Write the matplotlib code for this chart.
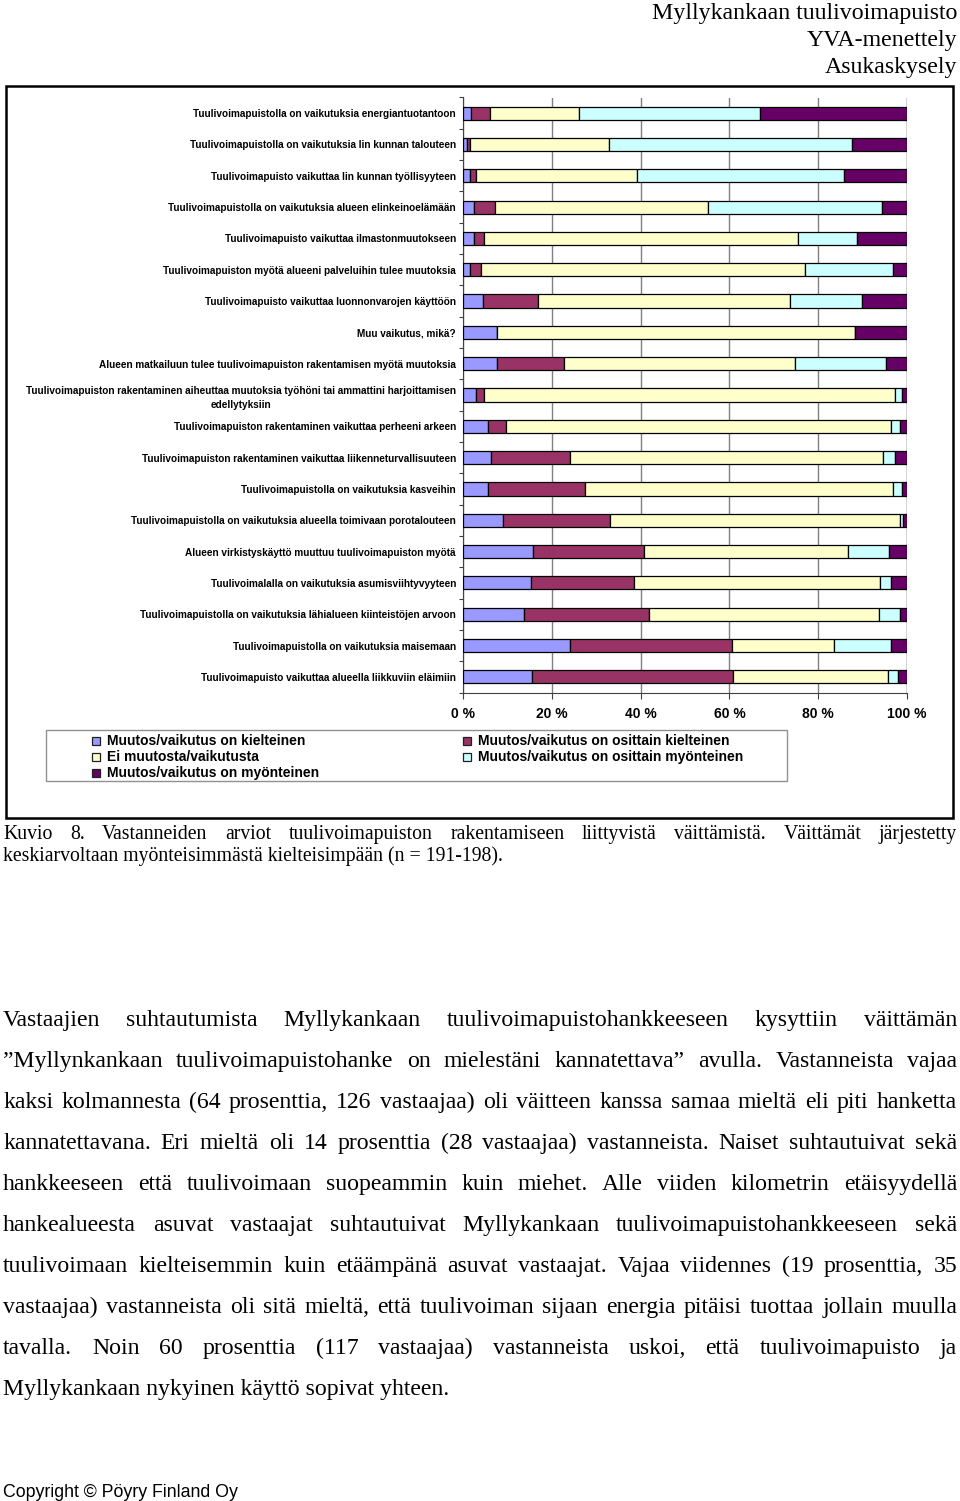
import numpy as np
import matplotlib
matplotlib.use('Agg')
import matplotlib.pyplot as plt
from matplotlib.patches import Rectangle

W, H = 960, 1501
SERIF = 'Liberation Serif'
SANS = 'Liberation Sans'

STATEMENTS = [
    'Tuulivoimapuistolla on vaikutuksia energiantuotantoon',
    'Tuulivoimapuistolla on vaikutuksia Iin kunnan talouteen',
    'Tuulivoimapuisto vaikuttaa Iin kunnan työllisyyteen',
    'Tuulivoimapuistolla on vaikutuksia alueen elinkeinoelämään',
    'Tuulivoimapuisto vaikuttaa ilmastonmuutokseen',
    'Tuulivoimapuiston myötä alueeni palveluihin tulee muutoksia',
    'Tuulivoimapuisto vaikuttaa luonnonvarojen käyttöön',
    'Muu vaikutus, mikä?',
    'Alueen matkailuun tulee tuulivoimapuiston rakentamisen myötä muutoksia',
    'Tuulivoimapuiston rakentaminen aiheuttaa muutoksia työhöni tai ammattini harjoittamisen\nedellytyksiin',
    'Tuulivoimapuiston rakentaminen vaikuttaa perheeni arkeen',
    'Tuulivoimapuiston rakentaminen vaikuttaa liikenneturvallisuuteen',
    'Tuulivoimapuistolla on vaikutuksia kasveihin',
    'Tuulivoimapuistolla on vaikutuksia alueella toimivaan porotalouteen',
    'Alueen virkistyskäyttö muuttuu tuulivoimapuiston myötä',
    'Tuulivoimalalla on vaikutuksia asumisviihtyvyyteen',
    'Tuulivoimapuistolla on vaikutuksia lähialueen kiinteistöjen arvoon',
    'Tuulivoimapuistolla on vaikutuksia maisemaan',
    'Tuulivoimapuisto vaikuttaa alueella liikkuviin eläimiin',
]

SERIES = [
    'Muutos/vaikutus on kielteinen',
    'Muutos/vaikutus on osittain kielteinen',
    'Ei muutosta/vaikutusta',
    'Muutos/vaikutus on osittain myönteinen',
    'Muutos/vaikutus on myönteinen',
]
COLORS = ['#9999FF', '#993366', '#FFFFCC', '#CCFFFF', '#660066']

# osuudet (%) per väittämä
kielteinen          = [1.8, 1.0, 1.5, 2.5, 2.4, 1.6, 4.5, 7.6, 7.6, 3.0, 5.6, 6.2, 5.6, 8.9, 15.8, 15.3, 13.8, 24.0, 15.5]
osittain_kielteinen = [4.2, 0.5, 1.4, 4.8, 2.3, 2.5, 12.3, 0.0, 15.1, 1.7, 4.0, 17.9, 21.8, 24.2, 24.9, 23.3, 28.1, 36.5, 45.4]
ei_muutosta         = [20.2, 31.4, 36.4, 47.9, 70.8, 73.0, 56.8, 80.8, 52.1, 92.7, 86.9, 70.6, 69.4, 65.3, 46.1, 55.3, 51.8, 23.1, 34.9]
osittain_myonteinen = [40.8, 54.6, 46.5, 39.2, 13.3, 19.7, 16.3, 0.0, 20.5, 1.5, 1.9, 2.7, 2.1, 0.7, 9.1, 2.6, 4.7, 12.8, 2.1]
myonteinen          = [33.0, 12.5, 14.2, 5.6, 11.2, 3.2, 10.1, 11.6, 4.7, 1.1, 1.6, 2.6, 1.1, 0.9, 4.1, 3.5, 1.6, 3.6, 2.1]

X_TICKS = [0, 20, 40, 60, 80, 100]
X_TICKLABELS = ['0 %', '20 %', '40 %', '60 %', '80 %', '100 %']

HEADER = ['Myllykankaan tuulivoimapuisto', 'YVA-menettely', 'Asukaskysely']
CAPTION = [
    'Kuvio 8. Vastanneiden arviot tuulivoimapuiston rakentamiseen liittyvistä väittämistä. Väittämät järjestetty',
    'keskiarvoltaan myönteisimmästä kielteisimpään (n = 191-198).',
]
BODY = [
    'Vastaajien suhtautumista Myllykankaan tuulivoimapuistohankkeeseen kysyttiin väittämän',
    '\u201dMyllynkankaan tuulivoimapuistohanke on mielestäni kannatettava\u201d avulla. Vastanneista vajaa',
    'kaksi kolmannesta (64 prosenttia, 126 vastaajaa) oli väitteen kanssa samaa mieltä eli piti hanketta',
    'kannatettavana. Eri mieltä oli 14 prosenttia (28 vastaajaa) vastanneista. Naiset suhtautuivat sekä',
    'hankkeeseen että tuulivoimaan suopeammin kuin miehet. Alle viiden kilometrin etäisyydellä',
    'hankealueesta asuvat vastaajat suhtautuivat Myllykankaan tuulivoimapuistohankkeeseen sekä',
    'tuulivoimaan kielteisemmin kuin etäämpänä asuvat vastaajat. Vajaa viidennes (19 prosenttia, 35',
    'vastaajaa) vastanneista oli sitä mieltä, että tuulivoiman sijaan energia pitäisi tuottaa jollain muulla',
    'tavalla. Noin 60 prosenttia (117 vastaajaa) vastanneista uskoi, että tuulivoimapuisto ja',
    'Myllykankaan nykyinen käyttö sopivat yhteen.',
]


def fx(x):
    return x / W


def fy(y):
    return 1 - y / H


fig = plt.figure(figsize=(W / 100, H / 100), dpi=100, facecolor='white')
renderer = fig.canvas.get_renderer()


def justified(lines, x0, x1, base0, step, size):
    for i, line in enumerate(lines):
        y = fy(base0 + i * step)
        words = line.split()
        if i == len(lines) - 1:
            fig.text(fx(x0), y, line, family=SERIF, fontsize=size, va='baseline')
            continue
        ts = [fig.text(0, y, w, family=SERIF, fontsize=size, va='baseline') for w in words]
        widths = [t.get_window_extent(renderer).width for t in ts]
        gap = (x1 - x0 - sum(widths)) / (len(words) - 1)
        x = x0
        for t, w in zip(ts, widths):
            t.set_x(fx(x))
            x += w + gap


# ── otsikko oikealla ylhäällä ─────────────────────────────
for i, s in enumerate(HEADER):
    fig.text(fx(957), fy(18.5 + i * 27.5), s, family=SERIF, fontsize=17.2,
             ha='right', va='baseline')

# ── kaavion kehys ─────────────────────────────────────────
fig.patches.append(Rectangle((fx(6), fy(818)), fx(953) - fx(6), fy(86) - fy(818),
                             transform=fig.transFigure, fill=False,
                             edgecolor='black', linewidth=1.8))

# ── pinottu palkkikaavio ──────────────────────────────────
ax = fig.add_axes([fx(463), fy(692.5), fx(907) - fx(463), fy(97.5) - fy(692.5)])
data = [kielteinen, osittain_kielteinen, ei_muutosta, osittain_myonteinen, myonteinen]
y = np.arange(len(STATEMENTS))
left = np.zeros(len(STATEMENTS))
for vals, col, name in zip(data, COLORS, SERIES):
    ax.barh(y, vals, left=left, height=0.42, color=col, edgecolor='black',
            linewidth=0.9, label=name, zorder=3)
    left += np.array(vals)

ax.set_xlim(0, 100)
ax.set_ylim(len(STATEMENTS) - 0.5, -0.5)
ax.set_xticks(X_TICKS)
ax.set_xticklabels(X_TICKLABELS, family=SANS, fontsize=10, fontweight='bold')
ax.tick_params(axis='x', length=4, width=0.8, pad=6.5, color='#404040')
ax.set_yticks(y)
ax.set_yticklabels(STATEMENTS, family=SANS, fontsize=7.2, fontweight='bold',
                   multialignment='center', linespacing=1.45)
ax.tick_params(axis='y', length=0, pad=5)
ax.set_yticks(np.arange(len(STATEMENTS) + 1) - 0.5, minor=True)
ax.tick_params(axis='y', which='minor', length=3, width=0.8, color='#404040')
ax.grid(axis='x', color='#808080', linewidth=1.0, zorder=0)
for side in ['top', 'right']:
    ax.spines[side].set_visible(False)
for side in ['left', 'bottom']:
    ax.spines[side].set_color('#404040')
    ax.spines[side].set_linewidth(0.8)
ax.axvline(100, color='#808080', linewidth=1.0, zorder=0)

# ── selite ────────────────────────────────────────────────
fig.patches.append(Rectangle((fx(46), fy(781)), fx(787) - fx(46), fy(730) - fy(781),
                             transform=fig.transFigure, fill=False,
                             edgecolor='#909090', linewidth=1.0))
leg_pos = [(95, 741), (466, 741), (95, 757), (466, 757), (95, 773)]
for (lx, ly), k in zip(leg_pos, range(len(SERIES))):
    fig.patches.append(Rectangle((fx(lx - 3), fy(ly + 4)), fx(8), 8 / H,
                                 transform=fig.transFigure, facecolor=COLORS[k],
                                 edgecolor='#202020', linewidth=0.9))
    fig.text(fx(lx + 12), fy(ly), SERIES[k], family=SANS, fontsize=10,
             fontweight='bold', va='center')

# ── kuvateksti ja leipäteksti ─────────────────────────────
justified(CAPTION, 3, 957, 839, 22.5, 14.2)
justified(BODY, 3, 957, 1026, 41, 17.1)

fig.text(fx(3), fy(1497), 'Copyright \u00a9 Pöyry Finland Oy', family=SANS,
         fontsize=12.8, va='baseline')

fig.savefig('out.png', dpi=100, facecolor='white')
